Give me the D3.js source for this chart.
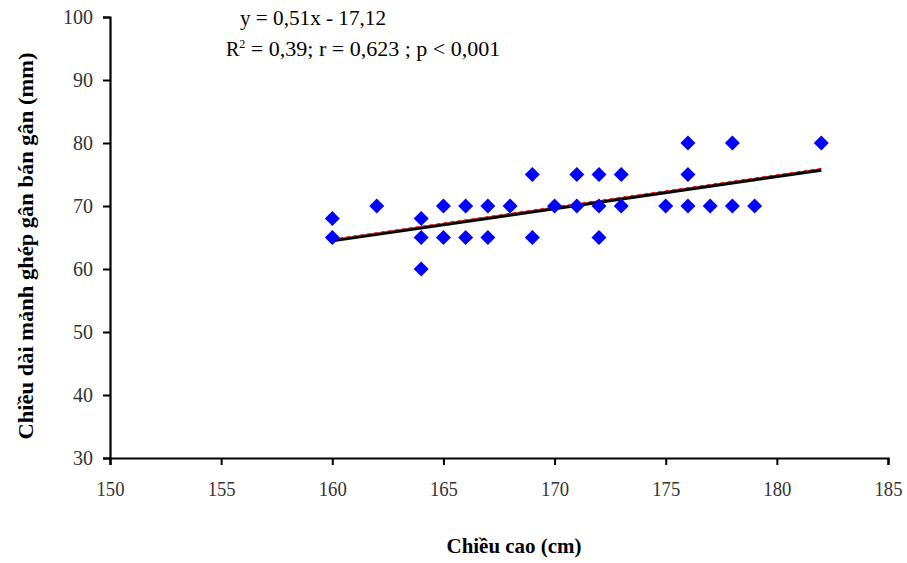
<!DOCTYPE html>
<html><head><meta charset="utf-8">
<script src="https://cdn.jsdelivr.net/npm/d3@7"></script>
<style>body{margin:0;background:#fff} svg text{font-family:'Liberation Serif','DejaVu Serif','Times New Roman',serif;}</style>
</head><body>
<svg id="c" width="907" height="563"></svg>
<script>
const heights = [160,160,162,164,164,164,165,165,166,166,167,167,168,169,169,170,171,171,172,172,172,173,173,175,176,176,176,177,178,178,179,182];
const lengths = [68,65,70,68,65,60,70,65,70,65,70,65,70,75,65,70,75,70,75,70,65,75,70,70,80,75,70,70,80,70,70,80];
const xTicks = [150,155,160,165,170,175,180,185];
const yTicks = [30,40,50,60,70,80,90,100];
const slope = 0.51, intercept = -17.12;
const trendRange = [160,182];

const svg = d3.select('#c');
const x = d3.scaleLinear().domain([150,185]).range([110,888]);
const y = d3.scaleLinear().domain([30,100]).range([458,17]);

const xa = svg.append('g').attr('transform','translate(0,458)')
  .call(d3.axisBottom(x).tickValues(xTicks).tickSize(7).tickPadding(17).tickFormat(d3.format('d')));
const ya = svg.append('g').attr('transform','translate(110,0)')
  .call(d3.axisLeft(y).tickValues(yTicks).tickSize(7).tickPadding(10).tickFormat(d3.format('d')));
[xa,ya].forEach(a=>{
  a.attr('font-family',null).attr('font-size',null);
  a.select('.domain').attr('stroke','#000').attr('stroke-width',2.2);
  a.selectAll('.tick line').attr('stroke','#000').attr('stroke-width',2);
  a.selectAll('.tick text').attr('fill','#333');
});
ya.selectAll('.tick text').style('font-size','20px');
xa.selectAll('.tick text').style('font-size','20px').attr('textLength',28).attr('lengthAdjust','spacingAndGlyphs');

// trend line
const lineData = trendRange.map(v=>[v, slope*v+intercept]);
const lg = d3.line().x(d=>x(d[0])).y(d=>y(d[1]));
svg.append('path').attr('d',lg(lineData)).attr('stroke','#000').attr('stroke-width',3.2).attr('fill','none');
svg.append('path').attr('d',lg(lineData)).attr('stroke','#ff0000').attr('stroke-width',1.2)
  .attr('stroke-dasharray','4,3').attr('fill','none').attr('transform','translate(0,-1.7)');

// points
svg.append('g').selectAll('path').data(heights.map((h,i)=>[h,lengths[i]])).join('path')
  .attr('d','M0,-7.5L7.5,0L0,7.5L-7.5,0Z').attr('fill','#0000ff')
  .attr('transform',d=>`translate(${x(d[0])},${y(d[1])})`);

// equation
svg.append('text').attr('x',240).attr('y',25).attr('textLength',146).attr('lengthAdjust','spacingAndGlyphs')
  .style('font-size','20px').attr('fill','#000').text('y = 0,51x - 17,12');
const t2 = svg.append('text').attr('x',226).attr('y',56).style('font-size','20px').attr('fill','#000');
t2.append('tspan').text('R');
t2.append('tspan').style('font-size','12px').attr('dy',-8).text('2');
t2.append('tspan').attr('dy',8).attr('textLength',255).attr('lengthAdjust','spacingAndGlyphs').text(' = 0,39;  r = 0,623 ; p < 0,001');

// axis titles
svg.append('text').attr('x',514).attr('y',553).attr('text-anchor','middle')
  .attr('textLength',135).attr('lengthAdjust','spacingAndGlyphs')
  .style('font-size','21px').attr('font-weight','bold').attr('fill','#000').text('Chiều cao (cm)');
svg.append('text').attr('transform','translate(33,246) rotate(-90)').attr('text-anchor','middle')
  .attr('textLength',387).attr('lengthAdjust','spacingAndGlyphs')
  .style('font-size','22px').attr('font-weight','bold').attr('fill','#000').text('Chiều dài mảnh ghép gân bán gân (mm)');
</script>
</body></html>
